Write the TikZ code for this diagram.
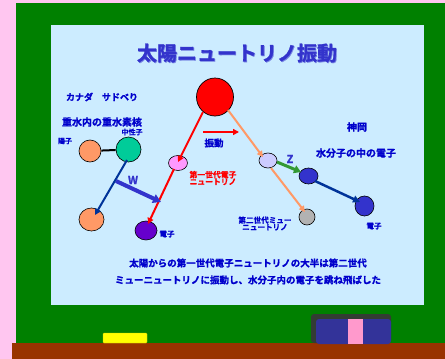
\documentclass[tikz,border=0pt]{standalone}
\usepackage{fontspec}
\setmainfont{Noto Sans CJK JP}[BoldFont={* Bold}, BoldFeatures={FakeBold=1.2}]
\usetikzlibrary{arrows.meta,shapes.geometric}
\definecolor{bgpink}{RGB}{255,198,240}
\definecolor{board}{RGB}{0,128,0}
\definecolor{panel}{RGB}{204,236,255}
\definecolor{floor}{RGB}{153,51,0}
\definecolor{chalk}{RGB}{255,255,0}
\definecolor{erback}{RGB}{51,60,51}
\definecolor{erblue}{RGB}{51,51,153}
\definecolor{erpink}{RGB}{255,153,204}
\definecolor{titleblue}{RGB}{51,51,204}
\definecolor{txtblue}{RGB}{0,0,204}
\definecolor{salmon}{RGB}{255,153,102}
\definecolor{neutron}{RGB}{0,204,153}
\definecolor{pinkv}{RGB}{255,153,255}
\definecolor{purp}{RGB}{102,0,204}
\definecolor{lav}{RGB}{204,204,255}
\definecolor{grayc}{RGB}{178,178,178}
\definecolor{bluec}{RGB}{51,51,204}
\definecolor{dblue}{RGB}{0,51,153}
\definecolor{zgreen}{RGB}{51,153,51}
\tikzset{
  ball/.style={draw=black, line width=0.6pt, shape=ellipse, inner sep=0pt},
  lbl/.style={inner sep=0pt, font=\bfseries, text=txtblue},
  conn/.style={line width=2pt, -{Triangle[length=6pt,width=6pt]}},
}
\begin{document}
\begin{tikzpicture}[x=1pt,y=-1pt]
\useasboundingbox (0,0) rectangle (445,359);
\fill[bgpink] (0,0) rectangle (445,359);
\fill[board] (16,3) rectangle (445,343);
\fill[panel] (51,25) rectangle (424,305);
\fill[floor] (12,343) rectangle (445,359);
\fill[chalk, draw=chalk!80!black, line width=0.4pt, rounded corners=1pt] (103,333) rectangle (147,343);
\fill[erback, rounded corners=3pt] (311,314) rectangle (391,343);
\fill[erblue, rounded corners=3pt] (316,319) rectangle (391,344);
\fill[erpink] (348,319) rectangle (363,344);

% title
\node[inner sep=0pt, font=\bfseries\fontsize{20}{22}\selectfont, text=titleblue!55!panel] (titleshadow) at (237.8,53.8) {太陽ニュートリノ振動};
\node[inner sep=0pt, font=\bfseries\fontsize{20}{22}\selectfont, text=titleblue] (title) at (237,53) {太陽ニュートリノ振動};

% left labels
\node[lbl, font=\bfseries\fontsize{9}{10}\selectfont] (canada) at (102,97) {カナダ　サドベり};
\node[lbl, font=\bfseries\fontsize{10}{11}\selectfont] (heavy) at (102,122) {重水内の重水素核};
\node[lbl, font=\bfseries\fontsize{7}{8}\selectfont] (nlabel) at (132,132) {中性子};
\node[lbl, font=\bfseries\fontsize{7}{8}\selectfont] (plabel) at (65,141) {陽子};

% balls (left)
\node[ball, fill=salmon, minimum width=22pt, minimum height=22pt] (proton) at (90,151) {};
\node[ball, fill=neutron, minimum width=25pt, minimum height=25pt] (neut) at (128.5,149.5) {};
\node[ball, fill=salmon, minimum width=25pt, minimum height=23pt] (lowp) at (91.5,219.5) {};
\draw[line width=2pt] (proton) -- (neut);

% sun
\node[ball, line width=0.7pt, fill=red, minimum width=37pt, minimum height=38pt] (sun) at (215,97) {};

% middle balls
\node[ball, fill=pinkv, minimum width=19pt, minimum height=15pt] (nue) at (178,163) {};
\node[ball, fill=purp, minimum width=22pt, minimum height=19pt] (el1) at (146,230.5) {};
\node[ball, fill=lav, minimum width=18pt, minimum height=15pt] (numu) at (268,160.5) {};
\node[ball, fill=grayc, minimum width=16pt, minimum height=16pt] (numu2) at (307,217) {};
\node[ball, fill=bluec, minimum width=19pt, minimum height=16pt] (el2) at (308.5,176) {};
\node[ball, fill=bluec, minimum width=19pt, minimum height=20pt] (el3) at (364.5,206) {};

% coordinates
\coordinate (sunA) at (203,112);
\coordinate (sunB) at (228,110);
\coordinate (nueTip) at (178,162);
\coordinate (nueOut) at (174,169);
\coordinate (el1Tip) at (148,224);
\coordinate (numuTip) at (263,157);
\coordinate (numuOut) at (271,168);
\coordinate (numu2Tip) at (305,212);
\coordinate (nOut) at (127,160);
\coordinate (lowTip) at (95,215);
\coordinate (wA) at (116,181);
\coordinate (wB) at (161,202);
\coordinate (oscA) at (203,132);
\coordinate (oscB) at (239,132);
\coordinate (zA) at (277,162);
\coordinate (zB) at (301,172);
\coordinate (e2Out) at (315,181);
\coordinate (e3Tip) at (360,202);

% connectors
\draw[conn, red] (sunA) -- (nueTip);
\draw[conn, red] (nueOut) -- (el1Tip);
\draw[conn, salmon] (sunB) -- (numuTip);
\draw[conn, salmon] (numuOut) -- (numu2Tip);
\draw[conn, dblue] (nOut) -- (lowTip);
\draw[line width=4pt, bluec, -{Triangle[length=8pt,width=9pt]}] (wA) -- (wB);
\draw[conn, red] (oscA) -- (oscB);
\draw[line width=3pt, zgreen, -{Triangle[length=7pt,width=8pt]}] (zA) -- (zB);
\draw[line width=2.5pt, dblue, -{Triangle[length=7pt,width=7pt]}] (e2Out) -- (e3Tip);

% labels
\node[lbl, font=\bfseries\fontsize{11}{12}\selectfont, text=bluec] (wlbl) at (133,180) {W};
\node[lbl, font=\bfseries\fontsize{11}{12}\selectfont, text=bluec] (zlbl) at (290,159) {Z};
\node[lbl, font=\bfseries\fontsize{7.5}{8}\selectfont] (e1lbl) at (167,234) {電子};
\node[lbl, font=\bfseries\fontsize{7.8}{8.5}\selectfont, text=red, align=center] (nuelbl) at (213,178) {第一世代電子\\[-1.5pt]ニュートリノ};
\node[lbl, font=\bfseries\fontsize{9.5}{10}\selectfont] (osclbl) at (214,143) {振動};
\node[lbl, font=\bfseries\fontsize{10}{11}\selectfont] (kamioka) at (357,127) {神岡};
\node[lbl, font=\bfseries\fontsize{10}{11}\selectfont] (water) at (356,153) {水分子の中の電子};
\node[lbl, font=\bfseries\fontsize{7.6}{8.5}\selectfont, align=center] (numulbl) at (265,223.5) {第二世代ミュー\\[-1.5pt]ニュートリノ};
\node[lbl, font=\bfseries\fontsize{7.5}{8}\selectfont] (e3lbl) at (374,226) {電子};

% bottom text
\node[lbl, font=\bfseries\fontsize{9.5}{10}\selectfont] (line1) at (248,263) {太陽からの第一世代電子ニュートリノの大半は第二世代};
\node[lbl, font=\bfseries\fontsize{9.5}{10}\selectfont] (line2) at (248,280) {ミューニュートリノに振動し、水分子内の電子を跳ね飛ばした};
\end{tikzpicture}
\end{document}
